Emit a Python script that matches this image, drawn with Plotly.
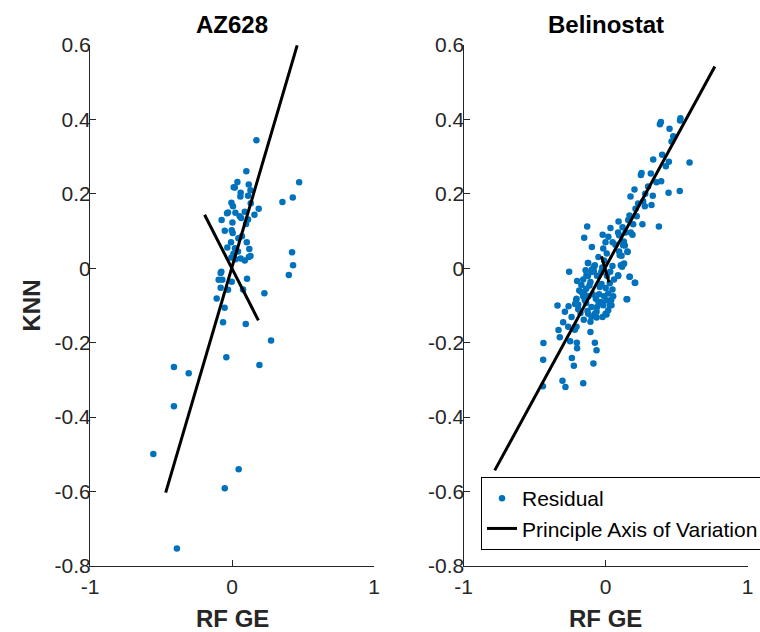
import plotly.graph_objects as go
from plotly.subplots import make_subplots

# ---------------- data ----------------
titles = ["AZ628", "Belinostat"]
x_label = "RF GE"
y_label = "KNN"
legend_names = ["Residual", "Principle Axis of Variation"]

x_ticks = [-1, 0, 1]
x_tick_text = ["-1", "0", "1"]
y_ticks = [-0.8, -0.6, -0.4, -0.2, 0, 0.2, 0.4, 0.6]
y_tick_text = ["-0.8", "-0.6", "-0.4", "-0.2", "0", "0.2", "0.4", "0.6"]

az_x = [0.172, 0.101, 0.473, 0.038, 0.012, 0.020, 0.118, 0.130, 0.061, 0.059,
        0.113, 0.428, 0.355, -0.004, 0.007, 0.132, 0.188, -0.035, -0.028, 0.024,
        0.090, 0.054, 0.065, 0.158, -0.073, 0.003, 0.113, 0.099, -0.051, -0.002,
        0.005, 0.045, 0.070, 0.104, -0.007, -0.033, 0.122, 0.021, 0.042, 0.010,
        0.130, 0.118, 0.423, -0.004, 0.061, 0.090, 0.024, 0.430, -0.075, -0.080,
        0.400, -0.094, -0.068, -0.002, 0.106, -0.080, -0.028, 0.078, 0.228, -0.108,
        -0.052, -0.063, 0.097, 0.275, -0.040, 0.193, -0.409, -0.305, -0.409, -0.554,
        0.047, -0.051, -0.388]
az_y = [0.344, 0.261, 0.231, 0.232, 0.218, 0.217, 0.225, 0.210, 0.203, 0.193,
        0.195, 0.190, 0.178, 0.176, 0.167, 0.175, 0.160, 0.148, 0.150, 0.149,
        0.152, 0.140, 0.135, 0.144, 0.130, 0.123, 0.131, 0.119, 0.101, 0.102,
        0.095, 0.081, 0.086, 0.070, 0.070, 0.056, 0.052, 0.054, 0.045, 0.039,
        0.033, 0.030, 0.043, 0.029, 0.026, 0.021, 0.024, 0.008, -0.009, -0.013,
        -0.018, -0.031, -0.031, -0.036, -0.028, -0.052, -0.058, -0.057, -0.067, -0.081,
        -0.106, -0.145, -0.150, -0.194, -0.239, -0.260, -0.265, -0.282, -0.371, -0.499,
        -0.540, -0.591, -0.753]

az_pc1_x = [-0.467, 0.459]
az_pc1_y = [-0.603, 0.599]
az_pc2_x = [-0.193, 0.186]
az_pc2_y = [0.144, -0.140]

bel_x = [0.528, 0.525, 0.390, 0.383, 0.451, 0.477, 0.465, 0.592, 0.399, 0.336,
         0.446, 0.425, 0.254, 0.249, 0.319, 0.359, 0.392, 0.204, 0.523, 0.444,
         0.176, 0.333, 0.230, 0.265, 0.277, 0.324, 0.211, 0.169, 0.195, 0.260,
         0.376, 0.092, 0.035, -0.129, -0.150, 0.089, 0.096, 0.141, 0.178, 0.129,
         0.136, 0.070, 0.096, 0.155, 0.113, -0.096, -0.016, 0.009, -0.124, -0.080,
         -0.096, -0.082, -0.009, -0.023, 0.049, 0.033, 0.124, 0.117, -0.256, -0.124,
         -0.200, -0.157, 0.089, 0.169, 0.209,
         -0.106, -0.113, -0.136, -0.150, -0.028, 0.002, 0.049, 0.019, 0.054, -0.169,
         -0.157, -0.146, -0.045, -0.068, -0.028, -0.059, -0.204, 0.007, 0.031, -0.016,
         -0.192, -0.176, -0.136, -0.127, -0.099, -0.075, -0.063, -0.021, 0.007, -0.106,
         -0.331, -0.263, 0.153, -0.338, -0.260, -0.214, -0.286, -0.239, -0.204, -0.298,
         -0.207, -0.192, -0.122, -0.063, 0.000, 0.019, 0.042, -0.099, -0.153, -0.216,
         -0.216, -0.322, -0.249, -0.106, -0.437, -0.202, -0.200, -0.075, -0.063, -0.439,
         -0.237, -0.223, -0.085, -0.303, -0.282, -0.157, -0.441,
         0.100, 0.124, 0.155, 0.131, 0.108, 0.089, 0.171, 0.206, 0.148, -0.122,
         -0.075, -0.099, -0.134, -0.040, 0.030, -0.010, 0.040, -0.050, -0.090, -0.120,
         -0.170, -0.185, -0.060, -0.030, 0.010, 0.060, -0.140, -0.050, 0.020, 0.050,
         0.000, -0.020, 0.160, 0.120, 0.280, 0.300, 0.220, 0.190]
bel_y = [0.403, 0.397, 0.393, 0.387, 0.375, 0.355, 0.341, 0.284, 0.305, 0.292,
         0.286, 0.274, 0.256, 0.251, 0.255, 0.231, 0.234, 0.212, 0.208, 0.203,
         0.193, 0.195, 0.174, 0.180, 0.167, 0.170, 0.160, 0.142, 0.118, 0.118,
         0.112, 0.126, 0.108, 0.112, 0.082, 0.096, 0.089, 0.096, 0.096, 0.072,
         0.061, 0.063, 0.045, 0.045, 0.034, 0.057, 0.053, 0.040, 0.014, 0.005,
         -0.003, -0.008, 0.021, 0.002, 0.006, -0.009, 0.011, 0.004, -0.009, -0.021,
         -0.034, -0.030, -0.021, -0.023, -0.039,
         -0.037, -0.046, -0.055, -0.065, -0.042, -0.053, -0.057, -0.068, -0.075, -0.064,
         -0.075, -0.086, -0.070, -0.082, -0.091, -0.104, -0.082, -0.086, -0.099, -0.099,
         -0.110, -0.120, -0.093, -0.115, -0.104, -0.122, -0.132, -0.131, -0.124, -0.144,
         -0.166, -0.157, -0.083, -0.100, -0.102, -0.096, -0.117, -0.131, -0.157, -0.145,
         -0.085, -0.098, -0.122, -0.117, -0.122, -0.113, -0.099, -0.130, -0.138, -0.158,
         -0.165, -0.185, -0.196, -0.171, -0.201, -0.200, -0.215, -0.200, -0.220, -0.246,
         -0.241, -0.262, -0.256, -0.302, -0.319, -0.309, -0.317,
         0.035, 0.062, 0.044, 0.013, 0.008, -0.019, -0.023, -0.039, -0.083, 0.014,
         0.008, -0.010, -0.019, -0.050, -0.040, -0.075, -0.085, -0.090, -0.070, -0.075,
         -0.045, -0.060, -0.020, -0.010, -0.020, -0.030, -0.005, 0.030, 0.085, 0.070,
         0.070, 0.090, 0.130, 0.110, 0.200, 0.220, 0.140, 0.090]

bel_pc1_x = [-0.780, 0.770]
bel_pc1_y = [-0.543, 0.542]
bel_pc2_x = [-0.028, 0.025]
bel_pc2_y = [0.032, -0.038]

# ---------------- styling ----------------
BLUE = "#0072BD"
AXC = "#262626"
FONT = "Liberation Sans, Arial, Helvetica, sans-serif"
W, H = 760, 632

fig = make_subplots(rows=1, cols=2)

panels = [
    (az_x, az_y, az_pc1_x, az_pc1_y, az_pc2_x, az_pc2_y),
    (bel_x, bel_y, bel_pc1_x, bel_pc1_y, bel_pc2_x, bel_pc2_y),
]
for i, (sx, sy, p1x, p1y, p2x, p2y) in enumerate(panels):
    col = i + 1
    show = (i == 1)
    fig.add_trace(go.Scatter(
        x=sx, y=sy, mode="markers", name=legend_names[0],
        marker=dict(color=BLUE, size=6.5, line=dict(width=0)),
        showlegend=show, legendrank=1), row=1, col=col)
    fig.add_trace(go.Scatter(
        x=p1x + [None] + p2x, y=p1y + [None] + p2y, mode="lines",
        name=legend_names[1], line=dict(color="black", width=3),
        showlegend=show, legendrank=2), row=1, col=col)

dom_y = [1 - 566 / H, 1 - 45 / H]
dom_x1 = [90 / W, 374 / W]
dom_x2 = [463.5 / W, 747.5 / W]

axis_common = dict(
    showline=True, linecolor=AXC, linewidth=1, mirror=False,
    ticks="inside", ticklen=6, tickwidth=1, tickcolor=AXC,
    showgrid=False, zeroline=False, automargin=False,
    tickfont=dict(family=FONT, size=21, color=AXC),
)
for ax, dom in (("xaxis", dom_x1), ("xaxis2", dom_x2)):
    fig.layout[ax].update(domain=dom, range=[-1, 1], tickmode="array",
                          tickvals=x_ticks, ticktext=x_tick_text,
                          ticklabelstandoff=2, **axis_common)
for ax in ("yaxis", "yaxis2"):
    fig.layout[ax].update(domain=dom_y, range=[-0.8, 0.6], tickmode="array",
                          tickvals=y_ticks, ticktext=y_tick_text,
                          ticklabelstandoff=-6, **axis_common)

ann = []
centers = [(dom_x1[0] + dom_x1[1]) / 2, (dom_x2[0] + dom_x2[1]) / 2]
for c, t in zip(centers, titles):
    ann.append(dict(text="<b>%s</b>" % t, x=c, y=1 - 25 / H, xref="paper", yref="paper",
                    showarrow=False, xanchor="center", yanchor="middle",
                    font=dict(family=FONT, size=24, color="black")))
    ann.append(dict(text="<b>%s</b>" % x_label, x=c, y=1 - 618 / H, xref="paper", yref="paper",
                    showarrow=False, xanchor="center", yanchor="middle",
                    font=dict(family=FONT, size=24, color=AXC)))
ann.append(dict(text="<b>%s</b>" % y_label, x=31 / W, y=(dom_y[0] + dom_y[1]) / 2,
                xref="paper", yref="paper", showarrow=False, textangle=-90,
                xanchor="center", yanchor="middle",
                font=dict(family=FONT, size=24, color=AXC)))

fig.update_layout(
    width=W, height=H, margin=dict(l=0, r=0, t=0, b=0, autoexpand=False),
    paper_bgcolor="white", plot_bgcolor="white",
    font=dict(family=FONT, color=AXC),
    annotations=ann,
    legend=dict(x=481 / W, y=1 - 477 / H, xanchor="left", yanchor="top",
                bgcolor="white", bordercolor="black", borderwidth=1,
                font=dict(family=FONT, size=21, color="black"),
                itemsizing="trace", tracegroupgap=0),
)

fig.write_html("out.html")
